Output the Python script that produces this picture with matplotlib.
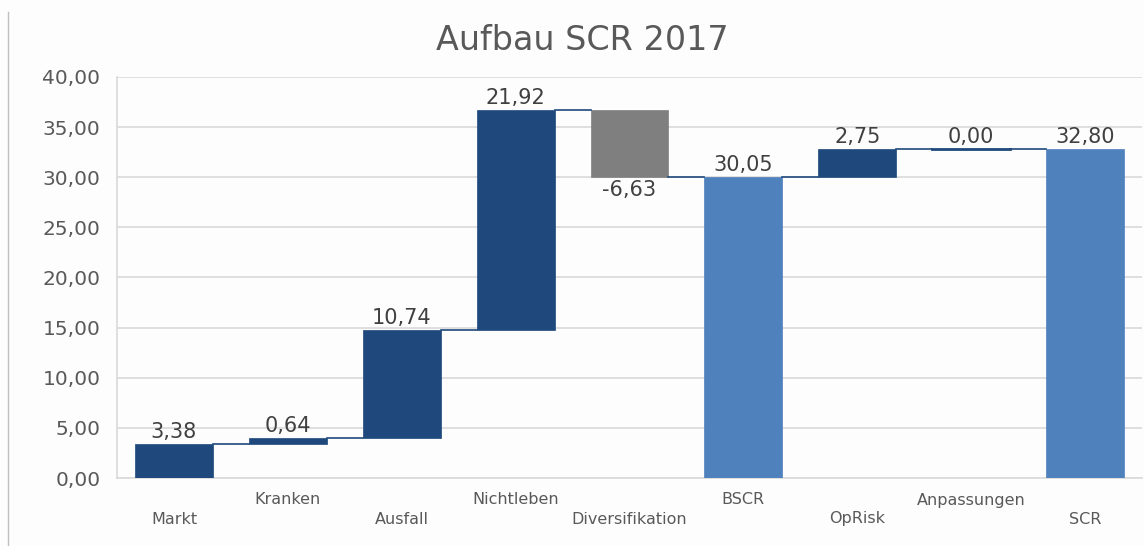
import matplotlib
matplotlib.use("Agg")
import matplotlib.pyplot as plt
from matplotlib.lines import Line2D

categories = ["Markt", "Kranken", "Ausfall", "Nichtleben", "Diversifikation",
              "BSCR", "OpRisk", "Anpassungen", "SCR"]
values = [3.38, 0.64, 10.74, 21.92, -6.63, 30.05, 2.75, 0.00, 32.80]
is_total = [False, False, False, False, False, True, False, False, True]
yticks = [0, 5, 10, 15, 20, 25, 30, 35, 40]
title = "Aufbau SCR 2017"

DARK = "#1F497D"
GREY = "#7F7F7F"
LIGHT = "#4F81BD"
TXT = "#595959"

plt.rcParams["font.family"] = ["DejaVu Sans"]

fig = plt.figure(figsize=(11.44, 5.46), dpi=100)
fig.patch.set_facecolor("#FDFDFD")
ax = fig.add_axes([117/1144, 1-478/546, (1142-117)/1144, (478-77)/546])
ax.set_facecolor("#FDFDFD")

bottoms, heights, colors, tops = [], [], [], []
cum = 0.0
for v, t in zip(values, is_total):
    if t:
        b, h = 0.0, v
        cum = v
        c = LIGHT
    else:
        b, h = cum, v
        cum = cum + v
        c = DARK if v >= 0 else GREY
    bottoms.append(b)
    heights.append(h)
    colors.append(c)
    tops.append(cum)

x = list(range(len(categories)))
w = 0.684
ax.bar(x, heights, bottom=bottoms, width=w, color=colors, zorder=3,
       edgecolor=[c for c in colors], linewidth=0.5)
for i, h in enumerate(heights):
    if h == 0:
        ax.plot([i - w/2, i + w/2], [bottoms[i], bottoms[i]], color=DARK, lw=2, zorder=4)

for i in range(len(x) - 1):
    ax.plot([i + w/2, i + 1 - w/2], [tops[i], tops[i]], color=DARK, lw=1.2, zorder=4)

for i, (v, b, h) in enumerate(zip(values, bottoms, heights)):
    lab = f"{v:.2f}".replace(".", ",")
    if v >= 0:
        ax.annotate(lab, (i, b + h), xytext=(0, 1.5), textcoords="offset points",
                    ha="center", va="bottom", fontsize=15, color="#404040")
    else:
        ax.annotate(lab, (i, b + h), xytext=(0, -2), textcoords="offset points",
                    ha="center", va="top", fontsize=15, color="#404040")

ax.set_xlim(-0.5, len(x) - 0.5)
ax.set_ylim(0, 40)
ax.set_yticks(yticks)
ax.set_yticklabels([f"{t:.2f}".replace(".", ",") for t in yticks], fontsize=14.5, color=TXT)
ax.tick_params(axis="y", length=0, pad=12)
ax.set_xticks(x)
ax.set_xticklabels([])
ax.tick_params(axis="x", length=0)
for i, c in enumerate(categories):
    yoff = -41 if i % 2 == 0 else -22
    ax.annotate(c, (i, 0), xytext=(0, yoff), textcoords="offset pixels",
                ha="center", va="center", fontsize=11.5, color=TXT, annotation_clip=False)

ax.grid(axis="y", color="#D9D9D9", lw=1.2, zorder=0)
for s in ["top", "right"]:
    ax.spines[s].set_visible(False)
for s in ["left", "bottom"]:
    ax.spines[s].set_color("#D9D9D9")
    ax.spines[s].set_linewidth(1.2)

fig.text(582/1144, 1-40/546, title, ha="center", va="center", fontsize=24, color=TXT)
fig.add_artist(Line2D([8/1144, 8/1144], [0, 1-12/546], transform=fig.transFigure,
                      color="#BFBFBF", lw=1))

fig.savefig("out.png", dpi=100, facecolor=fig.get_facecolor())
